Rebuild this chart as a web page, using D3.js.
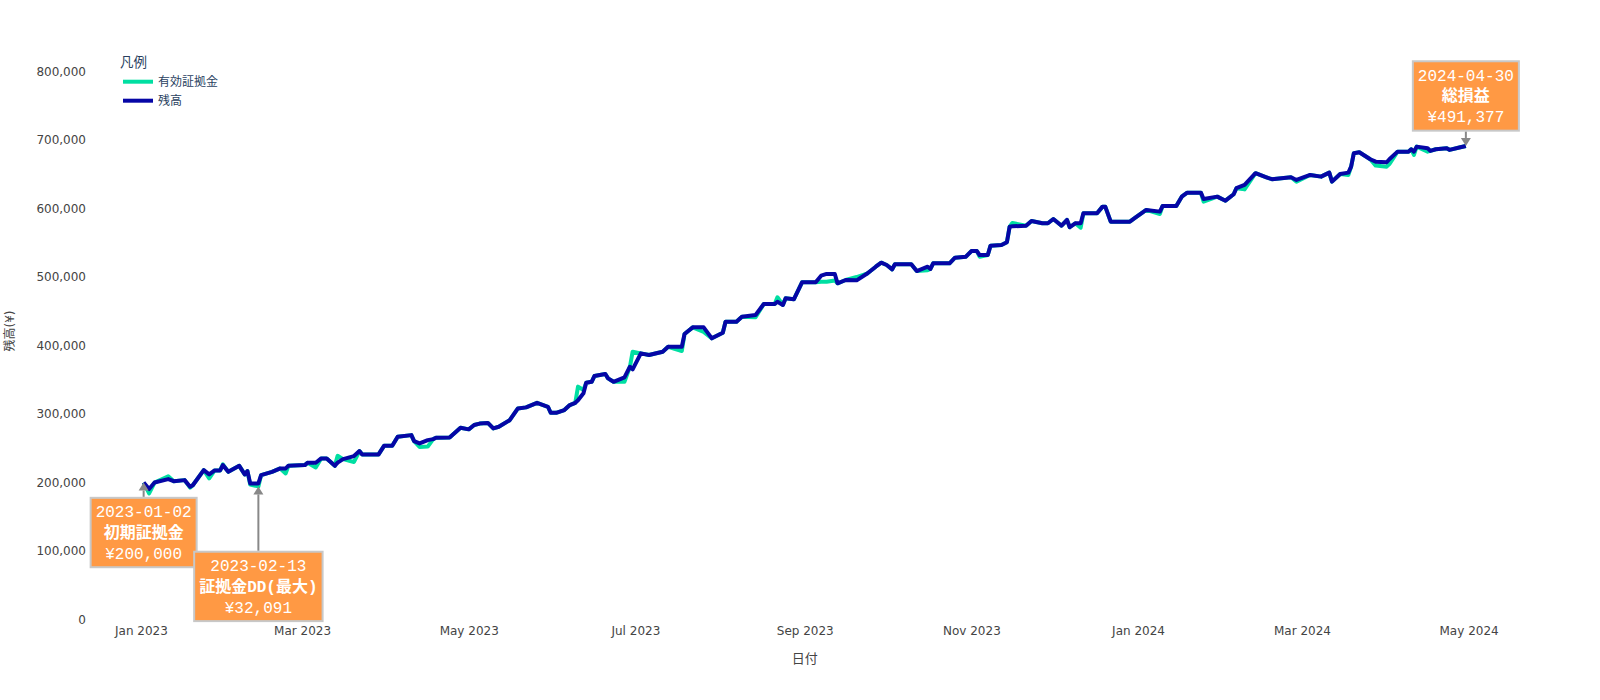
<!DOCTYPE html>
<html><head><meta charset="utf-8">
<script src="https://cdn.jsdelivr.net/npm/d3@7"></script>
<style>body{margin:0;background:#fff}</style>
</head><body>
<svg id="c" width="1600" height="700"></svg>
<script>
// ---------------- data ----------------
const dates = ["2023-01-02","2023-01-04","2023-01-06","2023-01-11","2023-01-13","2023-01-17","2023-01-19","2023-01-20","2023-01-24","2023-01-26","2023-01-28","2023-01-30","2023-01-31","2023-02-02","2023-02-06","2023-02-08","2023-02-09","2023-02-10","2023-02-13","2023-02-14","2023-02-18","2023-02-21","2023-02-23","2023-02-24","2023-03-02","2023-03-03","2023-03-06","2023-03-08","2023-03-10","2023-03-13","2023-03-14","2023-03-16","2023-03-20","2023-03-22","2023-03-23","2023-03-29","2023-03-31","2023-04-03","2023-04-05","2023-04-10","2023-04-11","2023-04-13","2023-04-16","2023-04-18","2023-04-19","2023-04-24","2023-04-28","2023-05-01","2023-05-03","2023-05-05","2023-05-08","2023-05-10","2023-05-12","2023-05-16","2023-05-19","2023-05-22","2023-05-26","2023-05-30","2023-05-31","2023-06-02","2023-06-05","2023-06-07","2023-06-09","2023-06-10","2023-06-12","2023-06-13","2023-06-15","2023-06-16","2023-06-20","2023-06-21","2023-06-23","2023-06-27","2023-06-29","2023-06-30","2023-07-03","2023-07-06","2023-07-11","2023-07-13","2023-07-18","2023-07-19","2023-07-20","2023-07-22","2023-07-26","2023-07-29","2023-08-02","2023-08-03","2023-08-07","2023-08-09","2023-08-14","2023-08-17","2023-08-21","2023-08-22","2023-08-24","2023-08-25","2023-08-28","2023-08-31","2023-09-05","2023-09-07","2023-09-09","2023-09-12","2023-09-13","2023-09-16","2023-09-20","2023-09-24","2023-09-27","2023-09-29","2023-10-01","2023-10-03","2023-10-04","2023-10-10","2023-10-12","2023-10-16","2023-10-17","2023-10-18","2023-10-24","2023-10-26","2023-10-30","2023-11-01","2023-11-03","2023-11-04","2023-11-07","2023-11-08","2023-11-12","2023-11-14","2023-11-15","2023-11-16","2023-11-21","2023-11-23","2023-11-27","2023-11-29","2023-12-01","2023-12-04","2023-12-06","2023-12-07","2023-12-09","2023-12-11","2023-12-12","2023-12-17","2023-12-19","2023-12-20","2023-12-22","2023-12-29","2023-12-31","2024-01-04","2024-01-09","2024-01-10","2024-01-15","2024-01-17","2024-01-19","2024-01-24","2024-01-25","2024-01-30","2024-02-02","2024-02-05","2024-02-06","2024-02-09","2024-02-13","2024-02-17","2024-02-19","2024-02-26","2024-02-28","2024-03-04","2024-03-08","2024-03-11","2024-03-12","2024-03-15","2024-03-18","2024-03-19","2024-03-20","2024-03-22","2024-03-26","2024-03-28","2024-04-01","2024-04-02","2024-04-05","2024-04-09","2024-04-10","2024-04-11","2024-04-12","2024-04-16","2024-04-17","2024-04-19","2024-04-23","2024-04-24","2024-04-28","2024-04-30"];

const balance = [200000,190500,200000,205000,202000,203500,193700,196000,218000,211800,217700,217700,225400,215600,224400,211800,216600,198700,198700,210800,215600,220600,220600,224400,225400,228800,228800,235200,235200,224400,229000,234200,238600,245900,241000,241000,253600,253600,266800,269200,260500,257100,261900,263400,265300,265900,279900,277600,283900,286000,287000,279000,281400,291000,308200,309700,316400,310600,301800,301800,305800,313100,316400,320000,330200,345700,347100,355400,358400,352100,347100,353500,369000,365200,388600,386100,391000,398200,398200,416800,420200,426600,426600,410500,418700,434800,434800,442100,444600,460600,460600,464000,459200,469000,467500,492300,492300,502000,504500,504500,490900,495700,495200,505500,515100,521000,517600,511300,518600,518600,508800,515100,511800,520100,520100,528300,529700,538000,538000,532200,532200,545800,546800,550800,573600,574000,575000,581900,578500,578500,584800,575000,583300,572700,578500,578500,593100,593100,602800,602800,580900,580900,586700,598000,595500,603800,603800,617400,623200,623200,614000,617400,611500,620900,629700,634500,651600,645700,642800,645700,641800,649100,646600,652500,639300,650500,652500,661200,680800,682200,672000,668500,667600,672000,683100,683100,686600,683100,690400,688100,684200,686600,688100,685600,689600,691377];

const margin = [200000,184000,200000,209000,202000,203500,192500,196000,218000,206000,217700,217700,226400,215600,224400,211800,216600,197000,194300,210800,215600,220600,213300,224400,225400,228800,222000,235200,235200,224400,239000,234200,230000,245900,241000,241000,253600,253600,266800,269200,260500,252000,252500,263400,265300,265900,279900,277600,283900,286000,287000,279000,281400,291000,308200,309700,316400,310600,301800,301800,305800,313100,316400,340000,335000,345700,347100,355400,358400,352100,347100,347000,369000,391000,388600,386100,391000,398200,392000,416800,420200,426600,420000,410500,418700,434800,434800,442100,441200,460600,460600,470500,459200,469000,467500,492300,492300,493000,493000,495000,490900,495700,500000,505500,515100,521000,517600,511300,518600,518600,508800,510000,511800,520100,520100,528300,529700,538000,538000,529700,532200,545800,546800,550800,573600,579000,575000,581900,578500,578500,584800,575000,583300,572700,578500,572100,593100,593100,602800,602800,580900,580900,586700,598000,592100,603800,603800,617400,623200,623200,610100,617400,611500,620900,629700,628000,651600,645700,642800,645700,639300,649100,646600,652500,639300,650500,649100,661200,680800,682200,672000,662700,661200,665000,683100,683100,686600,678300,690400,683100,684200,686600,688100,685600,689600,691377];

const seriesNames = ["有効証拠金", "残高"];
const yTickValues = [0,100000,200000,300000,400000,500000,600000,700000,800000];
const xTickDates = ["2023-01-01","2023-03-01","2023-05-01","2023-07-01","2023-09-01","2023-11-01","2024-01-01","2024-03-01","2024-05-01"];
const xTitle = "日付";
const yTitle = "残高(¥)";
const legendTitle = "凡例";
const annDates = ["2023-01-02", "2023-02-13", "2024-04-30"];
const annLabels = ["初期証拠金", "証拠金DD(最大)", "総損益"];
const annAmounts = ["¥200,000", "¥32,091", "¥491,377"];
const annSeries = [1, 0, 1]; // index into [margin, balance]

// ---------------- layout / style ----------------
const L = {left: 89, right: 1520.5, top: 42.5, bottom: 619.5};
const xDomain = ["2022-12-13", "2024-05-20"];
const yMax = 842450;
const colors = ["#00dfa2", "#0606a6"];
const annOffsets = [50, 100, -50];
const tickFont = "'DejaVu Sans','Noto Sans CJK JP',sans-serif";

const parse = d3.timeParse("%Y-%m-%d");
const svg = d3.select("#c");

const x = d3.scaleTime().domain(xDomain.map(parse)).range([L.left, L.right]);
const y = d3.scaleLinear().domain([0, yMax]).range([L.bottom, L.top]);

// axes (no lines, only labels)
const xAxis = d3.axisBottom(x).tickValues(xTickDates.map(parse)).tickFormat(d3.timeFormat("%b %Y")).tickSize(0).tickPadding(0);
const gx = svg.append("g").attr("transform", `translate(0,${L.bottom + 7})`).call(xAxis);
gx.select(".domain").remove();
gx.selectAll("text").attr("font-family", tickFont).attr("font-size", 12).attr("fill", "#444").attr("dy", "0.71em");

const yAxis = d3.axisLeft(y).tickValues(yTickValues).tickFormat(d3.format(",")).tickSize(0).tickPadding(3);
const gy = svg.append("g").attr("transform", `translate(${L.left},0)`).call(yAxis);
gy.select(".domain").remove();
gy.selectAll("text").attr("font-family", tickFont).attr("font-size", 12).attr("fill", "#444");

// axis titles
svg.append("text").attr("x", (L.left + L.right) / 2).attr("y", 663)
  .attr("text-anchor", "middle").attr("font-family", tickFont).attr("font-size", 13).attr("fill", "#444").text(xTitle);
svg.append("text").attr("transform", `translate(14,${(L.top + L.bottom) / 2}) rotate(-90)`)
  .attr("text-anchor", "middle").attr("font-family", tickFont).attr("font-size", 12).attr("fill", "#444").text(yTitle);

// lines
const rows = dates.map((d, i) => ({date: parse(d), v: [margin[i], balance[i]]}));
[0, 1].forEach(k => {
  const line = d3.line().x(d => x(d.date)).y(d => y(d.v[k]));
  svg.append("path").datum(rows).attr("d", line)
    .attr("fill", "none").attr("stroke", colors[k]).attr("stroke-width", 4)
    .attr("stroke-linejoin", "round");
});

// legend
const lg = svg.append("g");
lg.append("text").attr("x", 120).attr("y", 67).attr("font-family", tickFont).attr("font-size", 13.5)
  .attr("fill", "#2a3f5f").text(legendTitle);
seriesNames.forEach((n, i) => {
  const yy = 81.7 + i * 19;
  lg.append("line").attr("x1", 123).attr("x2", 153).attr("y1", yy).attr("y2", yy)
    .attr("stroke", colors[i]).attr("stroke-width", 4);
  lg.append("text").attr("x", 158).attr("y", yy + 4.2).attr("font-family", tickFont).attr("font-size", 12)
    .attr("fill", "#2a3f5f").text(n);
});

// annotations
const monoFont = "'Liberation Mono','Courier New','Noto Sans CJK JP',monospace";
annDates.forEach((ds, i) => {
  const idx = dates.indexOf(ds);
  const val = annSeries[i] === 0 ? margin[idx] : balance[idx];
  const px = x(parse(ds)), py = y(val);
  const cx = px, cy = py + annOffsets[i];
  const g = svg.append("g");
  const lh = 20.8;
  const rect = g.append("rect");
  const lines = [
    {t: ds, bold: false},
    {t: annLabels[i], bold: true},
    {t: annAmounts[i], bold: false}
  ];
  let maxW = 0;
  lines.forEach((ln, j) => {
    const t = g.append("text").attr("x", cx).attr("y", cy + (j - 1) * lh + 5.5)
      .attr("text-anchor", "middle").attr("font-family", monoFont).attr("font-size", 16)
      .attr("font-weight", ln.bold ? "bold" : "normal").attr("fill", "#ffffff").text(ln.t);
    maxW = Math.max(maxW, t.node().getComputedTextLength());
  });
  const w = maxW + 10, h = 3 * lh + 7;
  rect.attr("x", cx - w / 2).attr("y", cy - h / 2).attr("width", w).attr("height", h)
    .attr("fill", "#ff9944").attr("stroke", "#c8c8c8").attr("stroke-width", 2);
  // arrow
  const dir = Math.sign(annOffsets[i]); // +1: box below point
  const edge = cy - dir * (h / 2 + 1);
  const headLen = 8, headW = 5;
  svg.append("line").attr("x1", px).attr("x2", px).attr("y1", edge).attr("y2", py + dir * headLen)
    .attr("stroke", "#888888").attr("stroke-width", 2);
  svg.append("path")
    .attr("d", `M${px},${py} L${px - headW},${py + dir * headLen} L${px + headW},${py + dir * headLen} Z`)
    .attr("fill", "#888888");
});
</script>
</body></html>
